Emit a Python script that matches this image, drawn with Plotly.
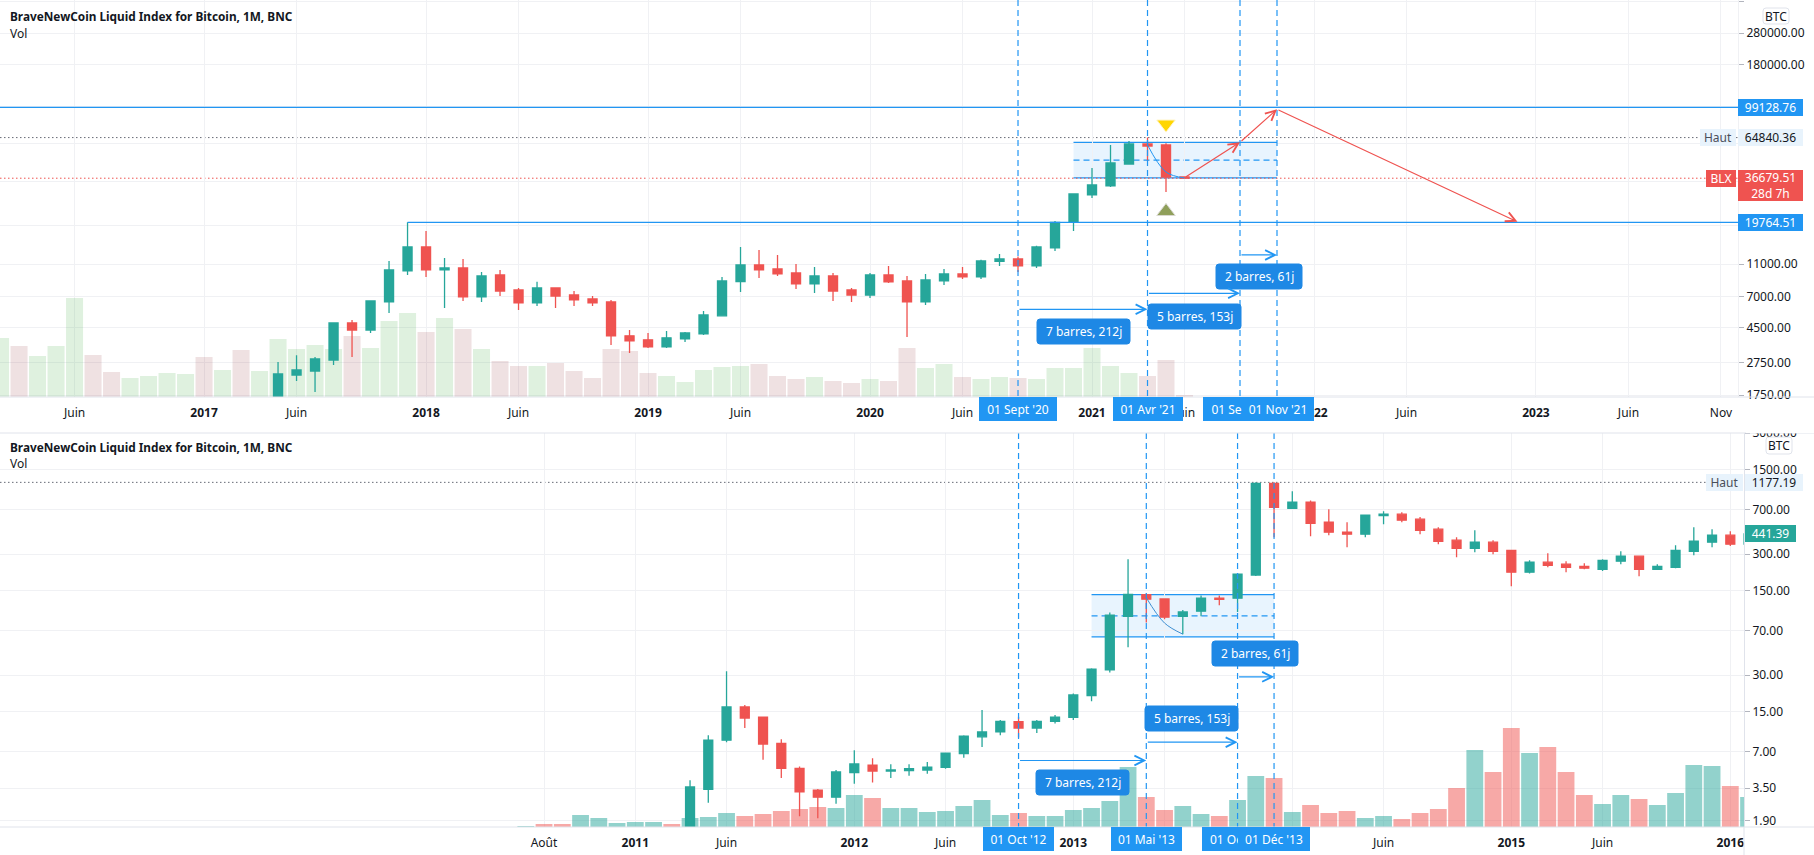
import math
import plotly.graph_objects as go

W = 1814
H = 855

# ---- upper chart (2016-2021), x is months counted from Jan 2017
top_open = [1350, 2322, 2455, 2865, 4815, 4364, 6470, 9990, 13990, 10130, 10420, 6940, 9450, 7650, 6380, 7870,
            7130, 6750, 6470, 4020, 3800, 3440, 3850, 4130, 5320, 8600, 10870, 10280, 9710, 8330, 9320, 7650,
            7130, 9450, 8690, 6470, 8690, 9580, 9190, 11420, 11820, 10720, 13800, 19764, 29000, 32900, 44780,
            59260, 58440, 37300]
top_high = [2787, 3060, 2990, 4815, 5020, 6560, 11490, 19764.51, 17500, 11980, 11820, 9850, 10130, 7870, 8570, 7870,
            7540, 7030, 6650, 4370, 4190, 4310, 4250, 5700, 9190, 13990, 13410, 12500, 11020, 10570, 9710, 7870,
            9710, 10720, 9320, 9580, 10280, 10570, 11700, 12680, 12240, 14210, 20130, 29400, 42330, 58440, 61800,
            64840.36, 59800, 37300]
top_low = [1340, 2134, 1828, 2670, 2990, 4184, 5540, 9450, 9190, 5940, 6560, 6470, 7030, 5780, 6120, 5940,
           6120, 6120, 3540, 3160, 3390, 3390, 3690, 4075, 5320, 7440, 9060, 9320, 7760, 7340, 6560, 6470,
           6840, 8430, 3960, 6200, 8200, 8930, 8930, 10720, 9850, 10420, 13220, 17500, 27800, 32420, 44780,
           46700, 30240, 36500]
top_close = [2354, 2490, 2905, 4815, 4364, 6560, 10130, 13990, 10130, 10420, 6940, 9320, 7540, 6380, 7870, 7030,
             6650, 6380, 4020, 3745, 3440, 3910, 4190, 5390, 8690, 10870, 10130, 9580, 8330, 9320, 7540, 7130,
             9450, 8570, 6470, 8810, 9580, 9190, 11490, 11820, 10720, 13990, 19764, 29400, 33350, 45410, 59260,
             57620, 37300, 36679.51]
top_candle_x = list(range(4, 54))

top_vol = [59, 51, 41, 51, 99, 42, 25, 19, 21, 24, 23, 40, 27, 47, 26, 58, 48, 52, 48, 61, 49, 76, 84,
           65, 79, 68, 48, 36, 31, 31, 34, 26, 19, 48, 46, 24, 21, 15, 27, 30, 31, 33, 21, 18, 20, 16, 14,
           18, 16, 49, 29, 33, 20, 18, 20, 19, 18, 29, 29, 49, 31, 24, 21, 37, 2]
top_vol_dir = list("grgggrrggggrgrgggggrgggrgrgrrgrrrrrrgggggrrrgrrgrrggrggrgggggg" "rrr")
top_vol_x = list(range(-11, 54))

top_tick_x = [-7, 0, 5, 12, 17, 24, 29, 36, 41, 48, 53, 60, 65, 72, 77, 82]
top_tick_text = ["Juin", "<b>2017</b>", "Juin", "<b>2018</b>", "Juin", "<b>2019</b>", "Juin", "<b>2020</b>", "Juin",
                 "<b>2021</b>", "Juin", "<b>2022</b>", "Juin", "<b>2023</b>", "Juin", "Nov"]
top_price_ticks = [440000, 280000, 180000, 100000, 60000, 35000, 19000, 11000, 7000, 4500, 2750, 1750]
top_price_text = ["440000.00", "280000.00", "180000.00", "", "", "", "", "11000.00", "7000.00", "4500.00",
                  "2750.00", "1750.00"]

# ---- lower chart (2010-2016), x is months counted from Jan 2012
low_open = [0.78, 3.43, 8.73, 16.4, 13.5, 8.2, 5.1, 3.38, 2.95, 4.7, 5.43, 4.85, 4.9, 4.95, 5.2, 6.75, 9.3, 10.2,
            12.4, 11, 12.5, 13.5, 20.4, 33.2, 92, 139, 128, 92, 101.5, 130, 130, 202, 1156, 719, 806, 551, 456,
            439, 625, 642, 584, 483, 392, 336, 377, 323, 213, 258, 248, 238, 225, 263, 289, 225, 234, 317, 377,
            431, 363]
low_high = [4.08, 9.6, 32.4, 17, 13.7, 8.9, 5.3, 3.45, 4.95, 7.2, 6.2, 5.53, 5.53, 5.75, 6.82, 9.6, 15.5, 12.8,
            13.6, 12.8, 14.1, 21.2, 34.3, 99, 273, 142, 130, 104, 137, 137, 209, 1177.19, 1177.19, 994, 835, 706,
            551, 630, 679, 665, 608, 500, 415, 473, 392, 323, 268, 306, 263, 253, 273, 317, 289, 248, 356, 500,
            483, 465, 490]
low_low = [0.56, 2.65, 8.4, 11, 6, 4.25, 2.05, 1.98, 2.6, 3.8, 3.9, 4.24, 4.44, 4.61, 5.07, 6.25, 7.65, 9.6,
           9.2, 10, 12, 12.8, 18.3, 31.6, 51, 82, 87, 65.6, 92, 113.7, 100, 198, 415, 719, 422, 431, 343,
           415, 530, 551, 439, 363, 283, 311, 300, 163, 208, 234, 213, 225, 218, 248, 197, 222, 230, 294,
           343, 350, 350]
low_close = [3.58, 8.73, 16.4, 13.3, 8.1, 5.1, 3.27, 2.95, 4.77, 5.55, 4.85, 4.95, 5.07, 5.23, 6.82, 9.42, 10.2, 12.5,
             11, 12.5, 13.5, 20.6, 33.7, 94, 140, 127.6, 90.6, 100, 130, 127, 205, 1156, 733, 806, 540, 456,
             439, 630, 642, 573, 473, 384, 336, 377, 317, 213, 258, 243, 234, 230, 267, 289, 225, 238, 323, 384,
             431, 363, 441.39]
low_candle_x = list(range(-9, 50))

low_vol = [1, 3, 3, 12, 9, 4, 5, 5, 3, 9, 10, 14, 11, 13, 16, 18, 20, 19, 32, 29, 19, 19, 15, 16, 21, 27, 12,
           14, 11, 11, 17, 19, 26, 60, 30, 17, 21, 13, 11, 27, 51, 49, 15, 22, 14, 16, 9, 11, 8, 14, 18, 39,
           77, 55, 99, 74, 80, 55, 32, 23, 32, 28, 22, 34, 62, 61, 41, 30]
low_vol_dir = list("grrgggggrgggrrrrrggrgggggggrggggggrrggrggrgrrrggrrrrgrrgrrrggrggggrg")
low_vol_x = list(range(-18, 50))

low_tick_x = [-17, -12, -7, 0, 5, 12, 17, 24, 29, 36, 41, 48]
low_tick_text = ["Août", "<b>2011</b>", "Juin", "<b>2012</b>", "Juin", "<b>2013</b>", "", "", "Juin", "<b>2015</b>",
                 "Juin", "<b>2016</b>"]
low_price_ticks = [3000, 1500, 700, 300, 150, 70, 30, 15, 7, 3.5, 1.9]
low_price_text = ["3000.00", "1500.00", "700.00", "300.00", "150.00", "70.00", "30.00", "15.00", "7.00", "3.50", "1.90"]

BLUE = "#2196f3"
LABEL_BLUE = "#1e88e5"
RED = "#ef5350"
TEAL = "#26a69a"
GRID = "#f0f1f4"
AXIS = "#e0e3eb"
TEXT = "#131722"
DOT_GREY = "#666a75"
FONT = "Noto Sans"


def px(x):
    return x / W


def py(y):
    return 1 - y / H


def vol_colors(dirs, green, red):
    return [green if d == "g" else red for d in dirs]


fig = go.Figure()

# volumes sit on the base axes so the candles draw on top of them
fig.add_trace(go.Bar(x=top_vol_x, y=top_vol, width=0.92, xaxis="x", yaxis="y",
                     marker=dict(color=vol_colors(top_vol_dir, "rgba(76,175,80,0.18)", "rgba(128,25,34,0.13)"), line_width=0)))
fig.add_trace(go.Bar(x=low_vol_x, y=low_vol, width=0.92, xaxis="x2", yaxis="y3",
                     marker=dict(color=vol_colors(low_vol_dir, "rgba(38,166,154,0.5)", "rgba(239,83,80,0.5)"), line_width=0)))

fig.add_trace(go.Candlestick(x=top_candle_x, open=top_open, high=top_high, low=top_low, close=top_close,
                             xaxis="x", yaxis="y2", whiskerwidth=0,
                             increasing=dict(line=dict(color=TEAL, width=1.3), fillcolor=TEAL),
                             decreasing=dict(line=dict(color=RED, width=1.3), fillcolor=RED)))
fig.add_trace(go.Candlestick(x=low_candle_x, open=low_open, high=low_high, low=low_low, close=low_close,
                             xaxis="x2", yaxis="y4", whiskerwidth=0,
                             increasing=dict(line=dict(color=TEAL, width=1.3), fillcolor=TEAL),
                             decreasing=dict(line=dict(color=RED, width=1.3), fillcolor=RED)))

# curve drawings
fig.add_trace(go.Scatter(x=[51, 52, 53], y=[58500, 40000, 36800], mode="lines", xaxis="x", yaxis="y2",
                         line=dict(color=BLUE, width=1, shape="spline")))
fig.add_trace(go.Scatter(x=[16, 17, 18], y=[131, 81, 65.6], mode="lines", xaxis="x2", yaxis="y4",
                         line=dict(color="#3f8fd2", width=1, shape="spline")))

# pattern markers above and below the May 2021 candle
fig.add_trace(go.Scatter(x=[52], y=[78400], mode="markers", xaxis="x", yaxis="y2",
                         marker=dict(symbol="triangle-down", size=16, color="#ffd600", line=dict(color="#fff3c4", width=1))))
fig.add_trace(go.Scatter(x=[52], y=[23000], mode="markers", xaxis="x", yaxis="y2",
                         marker=dict(symbol="triangle-up", size=16, color="#8f9f5a", line=dict(color="#d8d8d0", width=1))))

top_x_range = [-11.03, 82.92]
low_x_range = [-46.81, 48.75]
top_y_range = [math.log10(1705), math.log10(446600)]
low_y_range = [math.log10(1.673), math.log10(3010)]
tick_font = dict(family=FONT, size=12, color=TEXT)

fig.update_layout(
    width=W, height=H, margin=dict(l=0, r=0, t=0, b=0, pad=0, autoexpand=False), autosize=False,
    paper_bgcolor="white", plot_bgcolor="white", showlegend=False, barmode="overlay",
    font=dict(family=FONT, color=TEXT),
    xaxis=dict(domain=[0, 1738 / W], range=top_x_range, anchor="y", tickvals=top_tick_x, ticktext=top_tick_text,
               showgrid=True, gridcolor=GRID, tickfont=tick_font, ticks="outside", ticklen=5, tickcolor="white",
               zeroline=False, showline=False, rangeslider=dict(visible=False)),
    yaxis=dict(domain=[py(397), 1], range=[0, 397], visible=False, fixedrange=True),
    yaxis2=dict(overlaying="y", anchor="x", side="right", type="log", range=top_y_range, tickvals=top_price_ticks,
                ticktext=top_price_text, showgrid=True, gridcolor=GRID, tickfont=tick_font, ticks="outside", ticklen=5,
                tickcolor="#b2b5be", zeroline=False, showline=True, linecolor="#f0f1f4"),
    xaxis2=dict(domain=[0, 1744 / W], range=low_x_range, anchor="y3", tickvals=low_tick_x, ticktext=low_tick_text,
                showgrid=True, gridcolor=GRID, tickfont=tick_font, ticks="outside", ticklen=5, tickcolor="white",
                zeroline=False, showline=False, rangeslider=dict(visible=False)),
    yaxis3=dict(domain=[py(827), py(433)], range=[0, 394], visible=False, fixedrange=True, anchor="x2"),
    yaxis4=dict(overlaying="y3", anchor="x2", side="right", type="log", range=low_y_range, tickvals=low_price_ticks,
                ticktext=low_price_text, showgrid=True, gridcolor=GRID, tickfont=tick_font, ticks="outside", ticklen=5,
                tickcolor="#b2b5be", zeroline=False, showline=True, linecolor=AXIS),
)


def hline(x0, x1, price, xref, yref, color=BLUE, width=1.3, dash="solid", layer="above"):
    fig.add_shape(type="line", x0=x0, x1=x1, y0=price, y1=price, xref=xref, yref=yref, layer=layer,
                  line=dict(color=color, width=width, dash=dash))


def vline(x, y0, y1, xref):
    fig.add_shape(type="line", x0=x, x1=x, y0=py(y0), y1=py(y1), xref=xref, yref="paper",
                  line=dict(color=BLUE, width=1.2, dash="6px,4px"))


def arrow(x0, p0, x1, p1, xref, yref, color):
    fig.add_annotation(x=x1, y=math.log10(p1), ax=x0, ay=math.log10(p0), xref=xref, yref=yref, axref=xref, ayref=yref,
                       text="", showarrow=True, arrowhead=5, arrowsize=1.6, arrowwidth=1.2, arrowcolor=color)


def box_label(text, x0, y0, x1, y1, bg, color="white", size=12):
    fig.add_annotation(x=px((x0 + x1) / 2), y=py((y0 + y1) / 2), xref="paper", yref="paper", text=text, showarrow=False,
                       xanchor="center", yanchor="middle", width=x1 - x0, height=y1 - y0, bgcolor=bg, borderpad=0,
                       borderwidth=0, valign="middle", font=dict(family=FONT, size=size, color=color))


def round_label(text, x0, y0, x1, y1, bg, color="white", line=None, size=12):
    r = 3
    path = (f"M{px(x0 + r)},{py(y0)} L{px(x1 - r)},{py(y0)} Q{px(x1)},{py(y0)} {px(x1)},{py(y0 + r)} "
            f"L{px(x1)},{py(y1 - r)} Q{px(x1)},{py(y1)} {px(x1 - r)},{py(y1)} L{px(x0 + r)},{py(y1)} "
            f"Q{px(x0)},{py(y1)} {px(x0)},{py(y1 - r)} L{px(x0)},{py(y0 + r)} Q{px(x0)},{py(y0)} {px(x0 + r)},{py(y0)} Z")
    fig.add_shape(type="path", path=path, xref="paper", yref="paper", fillcolor=bg,
                  line=dict(color=line if line else bg, width=1))
    fig.add_annotation(x=px((x0 + x1) / 2), y=py((y0 + y1) / 2), xref="paper", yref="paper", text=text, showarrow=False,
                       xanchor="center", yanchor="middle", font=dict(family=FONT, size=size, color=color))


# rectangles behind the candles
fig.add_shape(type="rect", x0=47, x1=58, y0=36800, y1=60700, xref="x", yref="y2", layer="below",
              fillcolor="rgba(33,150,243,0.1)", line_width=0)
hline(47, 58, 60700, "x", "y2", layer="below")
hline(47, 58, 36800, "x", "y2", layer="below")
hline(47, 58, 47300, "x", "y2", dash="6px,4px", width=1.2, layer="below")
fig.add_shape(type="rect", x0=13, x1=23, y0=62.2, y1=139.3, xref="x2", yref="y4", layer="below",
              fillcolor="rgba(33,150,243,0.1)", line_width=0)
hline(13, 23, 139.3, "x2", "y4", layer="below")
hline(13, 23, 62.2, "x2", "y4", layer="below")
hline(13, 23, 92.8, "x2", "y4", dash="6px,4px", width=1.2, layer="below")

# price levels
hline(top_x_range[0], top_x_range[1], 99128.76, "x", "y2")
hline(11, top_x_range[1], 19764.51, "x", "y2")
hline(top_x_range[0], top_x_range[1], 64840.36, "x", "y2", color=DOT_GREY, width=1, dash="1.5px,2.5px", layer="below")
hline(top_x_range[0], top_x_range[1], 36679.51, "x", "y2", color=RED, width=1, dash="1.5px,2.5px", layer="below")
hline(low_x_range[0], low_x_range[1], 1177.19, "x2", "y4", color=DOT_GREY, width=1, dash="1.5px,2.5px", layer="below")

# date range lines, both panes
for m in [44, 51, 56, 58]:
    vline(m, 0, 397, "x")
for m in [9, 16, 21, 23]:
    vline(m, 433, 827, "x2")

# pane separators
for y in [397, 433, 827]:
    fig.add_shape(type="line", x0=0, x1=1, y0=py(y), y1=py(y), xref="paper", yref="paper",
                  line=dict(color=AXIS, width=1))
fig.add_shape(type="line", x0=px(1744), x1=px(1744), y0=py(827), y1=0, xref="paper", yref="paper",
              line=dict(color=AXIS, width=1))
fig.add_shape(type="rect", x0=px(1746), x1=1, y0=py(433), y1=py(421), xref="paper", yref="paper",
              fillcolor="white", line_width=0)

# red projection path
arrow(53, 36900, 56, 60700, "x", "y2", RED)
arrow(56, 60700, 58, 96400, "x", "y2", RED)
arrow(58, 96400, 71, 19900, "x", "y2", RED)

# bar count arrows
arrow(44, 5830, 51, 5830, "x", "y2", BLUE)
arrow(51, 7300, 56, 7300, "x", "y2", BLUE)
arrow(56, 12500, 58, 12500, "x", "y2", BLUE)
arrow(9, 5.93, 16, 5.93, "x2", "y4", BLUE)
arrow(16, 8.4, 21, 8.4, "x2", "y4", BLUE)
arrow(21, 29.1, 23, 29.1, "x2", "y4", BLUE)

round_label("7 barres, 212j", 1037, 319, 1130, 344, LABEL_BLUE)
round_label("5 barres, 153j", 1148, 304, 1241, 329, LABEL_BLUE)
round_label("2 barres, 61j", 1216, 264, 1302, 289, LABEL_BLUE)
round_label("7 barres, 212j", 1036, 770, 1129, 795, LABEL_BLUE)
round_label("5 barres, 153j", 1145, 706, 1238, 731, LABEL_BLUE)
round_label("2 barres, 61j", 1212, 641, 1298, 666, LABEL_BLUE)

# time axis date tags
box_label("01 Sept '20", 979, 397, 1057, 421, BLUE)
box_label("01 Avr '21", 1113, 397, 1183, 421, BLUE)
box_label("01 Sep '21", 1203, 397, 1277, 421, BLUE)
box_label("01 Nov '21", 1242, 397, 1314, 421, BLUE)
box_label("01 Oct '12", 983, 827, 1054, 851, BLUE)
box_label("01 Mai '13", 1111, 827, 1182, 851, BLUE)
box_label("01 Oct '13", 1202, 827, 1274, 851, BLUE)
box_label("01 Déc '13", 1238, 827, 1310, 851, BLUE)

# price axis tags
box_label("99128.76", 1738, 99, 1803, 116, BLUE)
box_label("19764.51", 1738, 214, 1803, 231, BLUE)
box_label("Haut", 1700, 129, 1736, 146, "#e8f3fc", color="#4a4e59")
box_label("64840.36", 1738, 129, 1803, 146, "#e8f3fc", color=TEXT)
box_label("BLX", 1706, 170, 1736, 187, RED)
box_label("36679.51<br>28d 7h", 1738, 170, 1803, 201, RED)
box_label("Haut", 1706, 474, 1743, 491, "#e8f3fc", color="#4a4e59")
box_label("1177.19", 1745, 474, 1803, 491, "#e8f3fc", color=TEXT)
box_label("441.39", 1745, 525, 1796, 542, TEAL)
round_label("BTC", 1763, 8, 1789, 24, "white", color=TEXT, line=AXIS)
round_label("BTC", 1766, 437, 1792, 454, "white", color=TEXT, line=AXIS)

# pane legends
for y, title_y in [(16, 33), (447, 464)]:
    fig.add_annotation(x=px(8), y=py(y), xref="paper", yref="paper", xanchor="left", yanchor="middle", showarrow=False,
                       text="<b>BraveNewCoin Liquid Index for Bitcoin, 1M, BNC</b>",
                       font=dict(family=FONT, size=11.8, color=TEXT))
    fig.add_annotation(x=px(8), y=py(title_y), xref="paper", yref="paper", xanchor="left", yanchor="middle", showarrow=False,
                       text="Vol", font=dict(family=FONT, size=12, color=TEXT))

fig.write_html("out.html", config=dict(displayModeBar=False),
               post_script="document.body.style.margin='0';document.body.style.overflow='hidden';")
